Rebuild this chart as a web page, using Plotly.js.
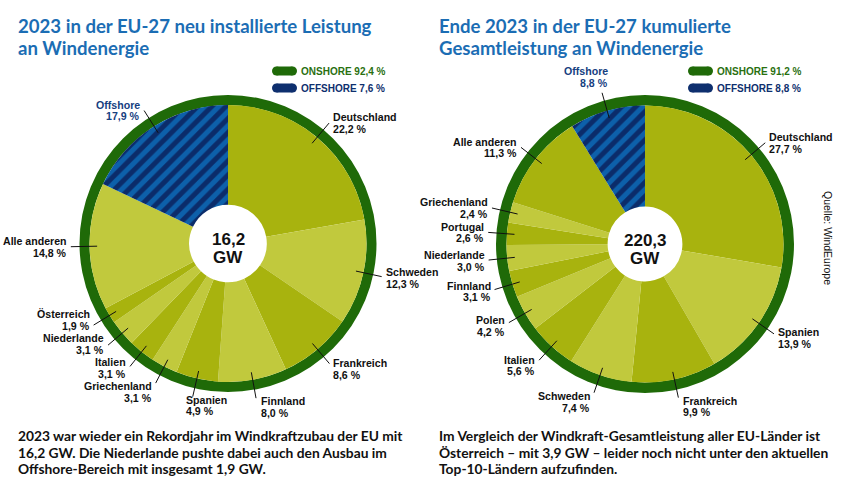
<!DOCTYPE html>
<html><head><meta charset="utf-8">
<script src="https://cdn.plot.ly/plotly-3.0.1.min.js"></script>
<style>html,body{margin:0;padding:0;background:#fff}#chart{width:848px;height:483px}</style>
</head><body><div id="chart"></div>
<script>
// ---------- data ----------
const newLabels = ['Deutschland','Schweden','Frankreich','Finnland','Spanien','Griechenland','Italien','Niederlande','Österreich','Alle anderen','Offshore'];
const newValues = [22.2, 12.3, 8.6, 8.0, 4.9, 3.1, 3.1, 3.1, 1.9, 14.8, 17.9];
const cumLabels = ['Deutschland','Spanien','Frankreich','Schweden','Italien','Polen','Finnland','Niederlande','Portugal','Griechenland','Alle anderen','Offshore'];
const cumValues = [27.7, 13.9, 9.9, 7.4, 5.6, 4.2, 3.1, 3.0, 2.6, 2.4, 11.3, 8.8];
const newTotal = '16,2';
const cumTotal = '220,3';
const unit = 'GW';
const newLegend = ['ONSHORE 92,4 %', 'OFFSHORE 7,6 %'];
const cumLegend = ['ONSHORE 91,2 %', 'OFFSHORE 8,8 %'];
const newTitle = ['2023 in der EU-27 neu installierte Leistung', 'an Windenergie'];
const cumTitle = ['Ende 2023 in der EU-27 kumulierte', 'Gesamtleistung an Windenergie'];
const newNote = ['2023 war wieder ein Rekordjahr im Windkraftzubau der EU mit', '16,2 GW. Die Niederlande pushte dabei auch den Ausbau im', 'Offshore-Bereich mit insgesamt 1,9 GW.'];
const cumNote = ['Im Vergleich der Windkraft-Gesamtleistung aller EU-Länder ist', 'Österreich – mit 3,9 GW – leider noch nicht unter den aktuellen', 'Top-10-Ländern aufzufinden.'];
const source = 'Quelle: WindEurope';
const offshoreName = 'Offshore';

// ---------- styling ----------
const W = 848, H = 483;
const C = {ring:'#1f6a08', dark:'#a8b30e', light:'#c1c93d', navy:'#0b2c6a', stripe:'#0d60aa',
           title:'#1b6db4', green:'#2a7010', blue:'#0e2f6e', offLabel:'#16407f'};
const LBL = 'Liberation Sans, Arial, sans-serif';
const GILL = 'Lato, sans-serif';

const px = x => x / W;
const py = y => 1 - y / H;
const fmt = v => v.toFixed(1).replace('.', ',') + ' %';

const traces = [], shapes = [], annotations = [];

function ann(x, y, text, o) {
  annotations.push(Object.assign({x: px(x), y: py(y), xref:'paper', yref:'paper', text: text,
    showarrow:false, xanchor:'left', yanchor:'middle', borderpad:0,
    font:{family:LBL, size:11, color:'#111'}}, o || {}));
}

function buildPie(labels, values, g, total, legend, title, note) {
  const dom = rad => ({x:[px(g.cx - rad), px(g.cx + rad)], y:[py(g.cy + rad), py(g.cy - rad)]});
  // outer green ring
  traces.push({type:'pie', values:[1], labels:['ring'], sort:false, textinfo:'none', hoverinfo:'skip',
    marker:{colors:[C.ring], line:{width:0}}, hole: g.r / g.R, domain: dom(g.R), showlegend:false});
  // data slices
  let k = 0;
  const colors = labels.map(l => l === offshoreName ? C.navy : (k++ % 2 === 0 ? C.dark : C.light));
  const pshape = labels.map(l => l === offshoreName ? '/' : '');
  traces.push({type:'pie', values: values, labels: labels, sort:false, direction:'clockwise', rotation:0,
    textinfo:'none', hoverinfo:'skip', hole: g.hole, domain: dom(g.r), showlegend:false,
    marker:{colors: colors, line:{width:0},
      pattern:{shape: pshape, fgcolor: C.stripe, bgcolor: C.navy, size: 10, solidity: 0.5, fillmode:'replace'}}});
  // leader lines + label boxes
  const sum = values.reduce((a, b) => a + b, 0);
  let cum = 0;
  const boxes = [];
  values.forEach((v, i) => {
    const th = 2 * Math.PI * (cum + v / 2) / sum; cum += v;
    const dx = Math.sin(th), dy = -Math.cos(th);
    const x0 = g.cx + 0.945 * g.r * dx, y0 = g.cy + 0.945 * g.r * dy;
    const x1 = g.cx + 1.135 * g.r * dx, y1 = g.cy + 1.135 * g.r * dy;
    shapes.push({type:'line', xref:'paper', yref:'paper', x0:px(x0), y0:py(y0), x1:px(x1), y1:py(y1),
      line:{color:'#111', width:1}});
    let right = dx >= 0, xx = x1 + (right ? 3 : -3);
    let yc = y1 + (dy > 0 ? 7 * dy : 0);
    if (dy > 0.85) yc = y1 + 9;
    if (dy > 0.9 && dx > -0.25) { right = true; xx = x1 + (dx >= 0 ? 4 : -8); }
    if (dy < -0.9) { yc = y1 - 16; xx = x1 + (right ? -7 : 7); }
    const w = Math.max(labels[i].length, fmt(v).length) * 6.3;
    boxes.push({i, v, right, xx, yc, l: right ? xx : xx - w, r: right ? xx + w : xx});
  });
  // resolve overlaps: push labels upward, bottom to top
  const H2 = 24;
  const sorted = boxes.slice().sort((a, b) => b.yc - a.yc);
  sorted.forEach((b, n) => {
    for (let m = 0; m < n; m++) {
      const o = sorted[m];
      const xo = b.l < o.r && o.l < b.r;
      if (xo && o.yc - b.yc < H2) b.yc = o.yc - H2;
    }
  });
  boxes.forEach(b => {
    const isOff = labels[b.i] === offshoreName;
    const f = {family:LBL, size:10.6, color: isOff ? C.offLabel : '#111'};
    const xa = b.right ? 'left' : 'right';
    ann(b.xx, b.yc - 5.8, '<b>' + labels[b.i] + '</b>', {xanchor: xa, font: f});
    ann(b.xx, b.yc + 5.8, '<b>' + fmt(b.v) + '</b>', {xanchor: xa, font: f});
  });
  // centre
  ann(g.cx, g.cy - 4, '<b>' + total + '</b>', {xanchor:'center', font:{family:LBL, size:17, color:'#111'}});
  ann(g.cx, g.cy + 14, '<b>' + unit + '</b>', {xanchor:'center', font:{family:LBL, size:17, color:'#111'}});
  // legend pills
  [[legend[0], C.green, C.ring, 71], [legend[1], C.blue, C.blue, 88]].forEach(([t, tc, pc, yc]) => {
    const x1 = g.legX, x2 = g.legX + 25, h = 9;
    shapes.push({type:'rect', xref:'paper', yref:'paper', x0:px(x1 + h/2), x1:px(x2 - h/2), y0:py(yc + h/2), y1:py(yc - h/2), fillcolor:pc, line:{width:0}});
    shapes.push({type:'circle', xref:'paper', yref:'paper', x0:px(x1), x1:px(x1 + h), y0:py(yc + h/2), y1:py(yc - h/2), fillcolor:pc, line:{width:0}});
    shapes.push({type:'circle', xref:'paper', yref:'paper', x0:px(x2 - h), x1:px(x2), y0:py(yc + h/2), y1:py(yc - h/2), fillcolor:pc, line:{width:0}});
    ann(x2 + 3, yc, '<b>' + t + '</b>', {font:{family:LBL, size:10, color:tc}});
  });
  // title
  title.forEach((t, i) => ann(g.tx, 25.5 + 22 * i, '<b>' + t + '</b>', {font:{family:GILL, size:18.6, color:C.title}}));
  // note
  note.forEach((t, i) => ann(g.tx, 435.5 + 16.6 * i, '<b>' + t + '</b>', {font:{family:GILL, size:13.8, color:'#111'}}));
}

buildPie(newLabels, newValues, {cx:228, cy:243.5, R:148.5, r:138.5, hole:0.28, legX:272, tx:17}, newTotal, newLegend, newTitle, newNote);
buildPie(cumLabels, cumValues, {cx:645, cy:244, R:149, r:138.5, hole:0.27, legX:688, tx:438}, cumTotal, cumLegend, cumTitle, cumNote);

ann(828, 238, source, {xanchor:'center', textangle:90, font:{family:LBL, size:10.5, color:'#111'}});

Plotly.newPlot('chart', traces, {
  width: W, height: H, margin:{l:0, r:0, t:0, b:0}, paper_bgcolor:'#fff', plot_bgcolor:'#fff',
  showlegend:false, shapes: shapes, annotations: annotations, hovermode:false
}, {staticPlot:true, displayModeBar:false});
</script></body></html>
